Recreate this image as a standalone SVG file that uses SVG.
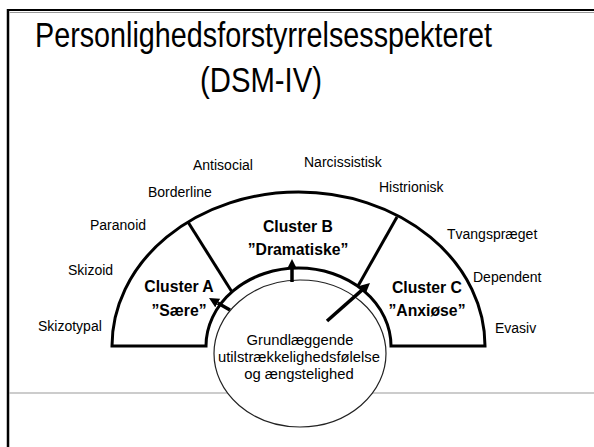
<svg xmlns="http://www.w3.org/2000/svg" width="594" height="447" viewBox="0 0 594 447">
<style>
text{font-family:"Liberation Sans",Arial,sans-serif;fill:#000}
.title{font-size:35px}
.lab{font-size:14px}
.clu{font-size:15.75px;font-weight:bold;text-anchor:middle}
.core{font-size:14.8px;text-anchor:middle}
.arch{fill:#fff;stroke:#000;stroke-width:3;stroke-linejoin:miter}
.div{stroke:#000;stroke-width:3}
.arr{stroke:#000;stroke-width:3.5;fill:none;marker-end:url(#ah)}
</style>
<defs>
<marker id="ah" viewBox="0 0 10 10" refX="0" refY="5" markerWidth="10" markerHeight="10" markerUnits="userSpaceOnUse" orient="auto">
<path d="M0,0 L10,5 L0,10 z" fill="#000"/>
</marker>
</defs>
<rect width="594" height="447" fill="#fff"/>
<g id="frame">
<line x1="7" y1="10" x2="594" y2="10" stroke="#000" stroke-width="2"/>
<line x1="9" y1="12.5" x2="594" y2="12.5" stroke="#999" stroke-width="1"/>
<line x1="8" y1="9" x2="8" y2="447" stroke="#000" stroke-width="2.5"/>
<line x1="9.5" y1="12" x2="9.5" y2="447" stroke="#bbb" stroke-width="0.8"/>
<line x1="9" y1="393" x2="594" y2="393" stroke="#999" stroke-width="1"/>
</g>
<g id="title">
<text class="title" x="35" y="47" textLength="457" lengthAdjust="spacingAndGlyphs">Personlighedsforstyrrelsesspekteret</text>
<text class="title" x="200" y="92" textLength="122" lengthAdjust="spacingAndGlyphs">(DSM-IV)</text>
</g>
<g id="spectrum">
<path class="arch" d="M112,346 A186.5,154 0 0 1 485,346 L391,346 A92.5,78 0 0 0 206,346 Z"/>
<line class="div" x1="188" y1="222" x2="232" y2="292"/>
<line class="div" x1="397" y1="217" x2="358" y2="286"/>
</g>
<g id="clusterA">
<text class="clu" x="179" y="292">Cluster A</text>
<text class="clu" x="179" y="316">”Sære”</text>
</g>
<g id="clusterB">
<text class="clu" x="298" y="232">Cluster B</text>
<text class="clu" x="298" y="255">”Dramatiske”</text>
</g>
<g id="clusterC">
<text class="clu" x="427" y="293">Cluster C</text>
<text class="clu" x="427" y="316">”Anxiøse”</text>
</g>
<g id="labels">
<text class="lab" x="193" y="170">Antisocial</text>
<text class="lab" x="148" y="197">Borderline</text>
<text class="lab" x="90" y="230">Paranoid</text>
<text class="lab" x="68" y="275">Skizoid</text>
<text class="lab" x="38" y="331">Skizotypal</text>
<text class="lab" x="304" y="167">Narcissistisk</text>
<text class="lab" x="379" y="192">Histrionisk</text>
<text class="lab" x="447" y="239">Tvangspræget</text>
<text class="lab" x="473" y="282">Dependent</text>
<text class="lab" x="495" y="333">Evasiv</text>
</g>
<g id="core">
<ellipse cx="300" cy="353.5" rx="86" ry="73.5" fill="#fff" stroke="#222" stroke-width="1.2"/>
<text class="core" x="300" y="345">Grundlæggende</text>
<text class="core" x="299" y="362">utilstrækkelighedsfølelse</text>
<text class="core" x="299" y="379">og ængstelighed</text>
</g>
<g id="connectors">
<line class="arr" x1="230" y1="310" x2="217.7" y2="303"/>
<line class="arr" x1="292" y1="282" x2="292" y2="269"/>
<line class="arr" x1="327" y1="321" x2="362.5" y2="289.6"/>
</g>
</svg>
